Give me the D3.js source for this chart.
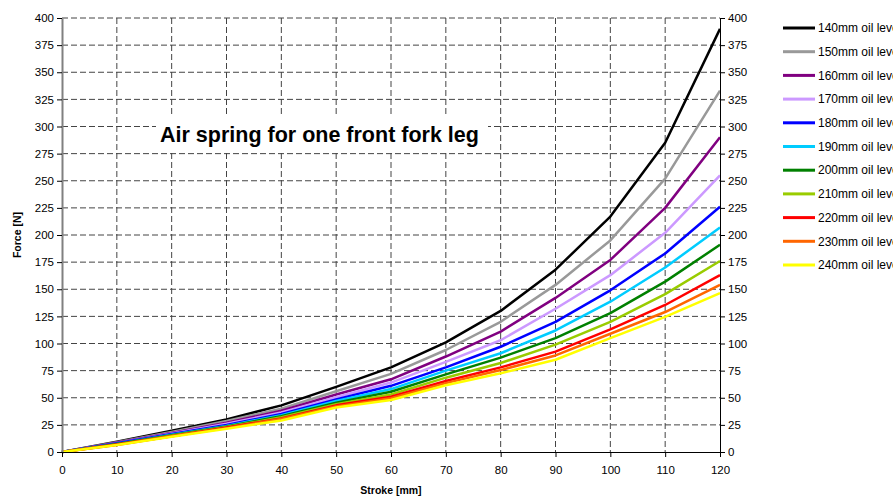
<!DOCTYPE html>
<html>
<head>
<meta charset="utf-8">
<script src="https://cdn.jsdelivr.net/npm/d3@7"></script>
<style>
  body { margin: 0; background: #fff; }
  svg { font-family: "Liberation Sans", Arial, sans-serif; }
</style>
</head>
<body>
<div id="chart"></div>
<script>
const stroke = [0, 10, 20, 30, 40, 50, 60, 70, 80, 90, 100, 110, 120];
const yTicks = [0, 25, 50, 75, 100, 125, 150, 175, 200, 225, 250, 275, 300, 325, 350, 375, 400];

const oil140 = [0, 9.5, 19.5, 30, 43, 60, 78, 101, 130, 168, 217, 285, 390];
const oil150 = [0, 9, 18.5, 28.5, 40, 56, 72, 94, 120, 154, 195, 252, 333];
const oil160 = [0, 8.5, 17.5, 27, 38, 53, 67, 88, 111, 142, 177, 225, 290];
const oil170 = [0, 8, 17, 26, 36.5, 50.5, 64, 83, 103, 132, 163, 202, 255];
const oil180 = [0, 8, 16.5, 25, 35, 48.5, 61, 78, 97, 120, 149, 183, 226];
const oil190 = [0, 7.5, 16, 24, 34, 47, 58, 75, 91, 112, 138.5, 170, 207];
const oil200 = [0, 7.5, 15.5, 23.5, 33, 45.5, 55.5, 71.5, 87, 105, 128, 157, 191];
const oil210 = [0, 7, 15, 23, 32, 44, 53, 68.5, 82, 99, 120, 145.5, 176];
const oil220 = [0, 7, 14.5, 22.5, 31, 43, 51, 65.5, 78, 92.5, 113, 135.5, 163];
const oil230 = [0, 6.5, 14.5, 22, 30.5, 42, 49.5, 63.5, 75.5, 89, 109, 129, 154];
const oil240 = [0, 6.5, 14, 21.5, 29, 41, 48, 61.5, 72.5, 85, 105, 124.5, 146.5];

const seriesNames = ['140mm oil level', '150mm oil level', '160mm oil level', '170mm oil level',
    '180mm oil level', '190mm oil level', '200mm oil level', '210mm oil level',
    '220mm oil level', '230mm oil level', '240mm oil level'];
const seriesValues = [oil140, oil150, oil160, oil170, oil180, oil190, oil200, oil210, oil220, oil230, oil240];
const colors = ['#000000', '#999999', '#800080', '#cc99ff', '#0000ff', '#00ccff',
    '#008000', '#99cc00', '#ff0000', '#ff6600', '#ffff00'];

const width = 893, height = 496;
const plot = { left: 62, right: 720, top: 18, bottom: 452 };

const svg = d3.select('#chart')
    .append('svg')
        .attr('width', width)
        .attr('height', height);

const x = d3.scaleLinear()
    .domain([0, 120])
    .range([plot.left, plot.right]);

const y = d3.scaleLinear()
    .domain([0, 400])
    .range([plot.bottom, plot.top]);

// grid
const gridG = svg.append('g').attr('class', 'grid');
gridG.selectAll('line.h')
    .data(yTicks.filter(d => d > 0))
    .enter()
    .append('line')
        .attr('class', 'h')
        .attr('x1', plot.left).attr('x2', plot.right)
        .attr('y1', d => y(d)).attr('y2', d => y(d))
        .attr('stroke', '#444')
        .attr('stroke-dasharray', '6,3');
gridG.selectAll('line.v')
    .data(stroke.filter(d => d > 0 && d < 120))
    .enter()
    .append('line')
        .attr('class', 'v')
        .attr('x1', d => x(d)).attr('x2', d => x(d))
        .attr('y1', plot.top).attr('y2', plot.bottom)
        .attr('stroke', '#444')
        .attr('stroke-dasharray', '6,3');

// title with white box
const titleG = svg.append('g');
titleG.append('rect')
    .attr('x', 156).attr('y', 116)
    .attr('width', 332).attr('height', 36)
    .attr('fill', '#fff');
titleG.append('text')
    .attr('x', 160).attr('y', 142)
    .style('font-size', '21.5px')
    .style('font-weight', 'bold')
    .text('Air spring for one front fork leg');

// series
const line = d3.line()
    .x((d, i) => x(stroke[i]))
    .y(d => y(d));

svg.append('g')
    .selectAll('path')
    .data(seriesValues)
    .enter()
    .append('path')
        .attr('d', d => line(d))
        .attr('fill', 'none')
        .attr('stroke', (d, i) => colors[i])
        .attr('stroke-width', 2.5)
        .attr('stroke-linejoin', 'round');

// axes
const leftAxis = svg.append('g')
    .attr('transform', 'translate(' + plot.left + ',0)')
    .call(d3.axisLeft(y).tickValues(yTicks).tickSize(5).tickSizeOuter(0));
const rightAxis = svg.append('g')
    .attr('transform', 'translate(' + plot.right + ',0)')
    .call(d3.axisRight(y).tickValues(yTicks).tickSize(5).tickSizeOuter(0));
const bottomAxis = svg.append('g')
    .attr('transform', 'translate(0,' + plot.bottom + ')')
    .call(d3.axisBottom(x).tickValues(stroke).tickSize(5).tickSizeOuter(0));

[leftAxis, rightAxis, bottomAxis].forEach(g => {
    g.selectAll('text')
        .style('font-family', '"Liberation Sans", Arial, sans-serif')
        .style('font-size', '11.5px')
        .attr('fill', '#000');
    g.selectAll('.tick line').attr('stroke', '#000');
    g.select('.domain').attr('stroke', '#000');
});
leftAxis.select('.domain').attr('stroke', '#808080').attr('stroke-width', 2);
bottomAxis.selectAll('text').attr('dy', '1.25em');

// axis titles
svg.append('text')
    .attr('x', (plot.left + plot.right) / 2)
    .attr('y', 494)
    .attr('text-anchor', 'middle')
    .style('font-size', '10.5px')
    .style('font-weight', 'bold')
    .text('Stroke [mm]');
svg.append('text')
    .attr('transform', 'translate(21,' + ((plot.top + plot.bottom) / 2) + ') rotate(-90)')
    .attr('text-anchor', 'middle')
    .style('font-size', '10.5px')
    .style('font-weight', 'bold')
    .text('Force [N]');

// legend
const legendG = svg.append('g')
    .selectAll('g')
    .data(seriesNames)
    .enter()
    .append('g')
        .attr('transform', (d, i) => 'translate(783,' + (28 + i * 23.7) + ')');
legendG.append('line')
    .attr('x1', 0).attr('x2', 32)
    .attr('stroke', (d, i) => colors[i])
    .attr('stroke-width', 3);
legendG.append('text')
    .attr('x', 35).attr('dy', '0.35em')
    .style('font-size', '12px')
    .text(d => d);
</script>
</body>
</html>
